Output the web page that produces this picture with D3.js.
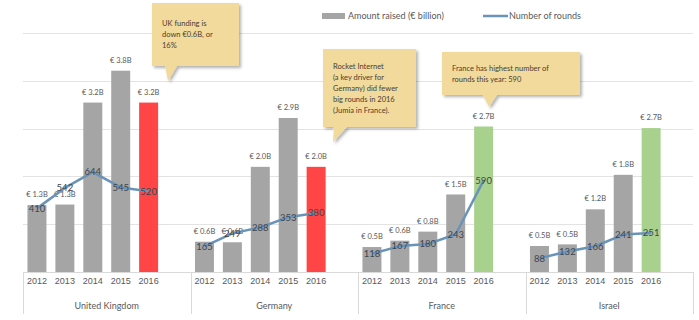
<!DOCTYPE html>
<html>
<head>
<meta charset="utf-8">
<script src="https://cdn.jsdelivr.net/npm/d3@7"></script>
<style>
  body { margin: 0; background: #fff; }
  svg { font-family: Lato, "Open Sans", sans-serif; }
</style>
</head>
<body>
<div id="chart"></div>
<script>
// data
const countries = ["United Kingdom", "Germany", "France", "Israel"];
const years = ["2012", "2013", "2014", "2015", "2016"];
const amountUK = [1.26, 1.27, 3.19, 3.79, 3.19];
const amountDE = [0.57, 0.56, 1.98, 2.90, 1.98];
const amountFR = [0.47, 0.59, 0.76, 1.46, 2.74];
const amountIL = [0.49, 0.52, 1.18, 1.83, 2.71];
const roundsUK = [410, 542, 644, 545, 520];
const roundsDE = [165, 249, 288, 353, 380];
const roundsFR = [118, 167, 180, 243, 590];
const roundsIL = [88, 132, 166, 241, 251];
const legendLabels = ["Amount raised (€ billion)", "Number of rounds"];
const notes = [
    ["UK funding is", "down €0.6B, or", "16%"],
    ["Rocket Internet", "(a key driver for", "Germany) did fewer", "big rounds in 2016", "(Jumia in France)."],
    ["France has highest number of", "rounds this year: 590"]
];

// styles
const barGrey = "#a5a5a5",
      lastBarColors = ["#ff4545", "#ff4545", "#a9d18e", "#a9d18e"],
      lineColor = "#6a93b8",
      textGrey = "#595959",
      noteFill = "#f1da9c";

const width = 699, height = 320;
const amounts = [amountUK, amountDE, amountFR, amountIL];
const rounds = [roundsUK, roundsDE, roundsFR, roundsIL];

const rows = [];
countries.forEach((c, i) => {
    years.forEach((yr, j) => {
        rows.push({country: c, year: yr, amount: amounts[i][j], rounds: rounds[i][j],
                   color: j === years.length - 1 ? lastBarColors[i] : barGrey});
    });
});

const svg = d3.select("#chart").append("svg")
    .attr("width", width)
    .attr("height", height);

const defs = svg.append("defs");
defs.append("filter").attr("id", "shadow")
    .attr("x", "-10%").attr("y", "-10%").attr("width", "130%").attr("height", "130%")
    .append("feDropShadow")
    .attr("dx", 2).attr("dy", 2).attr("stdDeviation", 1.5)
    .attr("flood-color", "#000").attr("flood-opacity", 0.3);

//Set up scales
const outer = d3.scaleBand().domain(countries).range([23, 693]);
const inner = d3.scaleBand().domain([...years, "gap"])
    .range([0, outer.bandwidth()])
    .paddingInner(0.32).paddingOuter(0.16);
const y = d3.scaleLinear().domain([0, 4.5]).range([272, 33]);
const y2 = d3.scaleLinear().domain([0, 1540]).range([272, 33]);
const xc = d => outer(d.country) + inner(d.year) + inner.bandwidth() / 2;

//gridlines
svg.append("g").selectAll("line")
    .data(d3.range(1, 6).map(i => i * 0.9))
    .enter().append("line")
    .attr("x1", 23).attr("x2", 693)
    .attr("y1", d => Math.round(y(d)) + 0.5)
    .attr("y2", d => Math.round(y(d)) + 0.5)
    .attr("stroke", "#e3e3e3");

//bars
svg.append("g").selectAll("rect")
    .data(rows)
    .enter().append("rect")
    .attr("x", d => outer(d.country) + inner(d.year))
    .attr("y", d => y(d.amount))
    .attr("width", inner.bandwidth())
    .attr("height", d => y(0) - y(d.amount))
    .attr("fill", d => d.color);

//category axis
const axis = svg.append("g");
axis.append("line")
    .attr("x1", 23).attr("x2", 693).attr("y1", 272.5).attr("y2", 272.5)
    .attr("stroke", "#d9d9d9");
axis.selectAll("line.div")
    .data([...countries.map(c => outer(c)), 693])
    .enter().append("line")
    .attr("class", "div")
    .attr("x1", d => Math.round(d) + 0.5).attr("x2", d => Math.round(d) + 0.5)
    .attr("y1", 272).attr("y2", 314)
    .attr("stroke", "#d9d9d9");

countries.forEach(c => {
    const g = axis.append("g")
        .attr("transform", "translate(" + outer(c) + ",276)")
        .call(d3.axisBottom(inner).tickSize(0).tickPadding(0).tickValues(years));
    g.select(".domain").remove();
    g.selectAll("text")
        .attr("dy", "0.9em")
        .attr("font-size", 9)
        .attr("font-family", null)
        .attr("fill", textGrey);
});
axis.selectAll("text.country")
    .data(countries)
    .enter().append("text")
    .attr("class", "country")
    .attr("x", d => outer(d) + outer.bandwidth() / 2)
    .attr("y", 306)
    .attr("dy", "0.35em")
    .attr("text-anchor", "middle")
    .attr("font-size", 9)
    .attr("fill", textGrey)
    .text(d => d);

//bar value labels
svg.append("g").selectAll("text")
    .data(rows)
    .enter().append("text")
    .attr("x", xc)
    .attr("y", d => y(d.amount) - 10.5)
    .attr("dy", "0.35em")
    .attr("text-anchor", "middle")
    .attr("font-size", 7.5)
    .attr("fill", textGrey)
    .text(d => "€ " + d3.format(".1f")(d.amount) + "B");

//rounds lines
const line = d3.line().x(xc).y(d => y2(d.rounds));
svg.append("g").selectAll("path")
    .data(d3.groups(rows, d => d.country))
    .enter().append("path")
    .attr("d", d => line(d[1]))
    .attr("fill", "none")
    .attr("stroke", lineColor)
    .attr("stroke-width", 2.5)
    .attr("stroke-linejoin", "round");

svg.append("g").selectAll("text")
    .data(rows)
    .enter().append("text")
    .attr("x", xc)
    .attr("y", d => y2(d.rounds))
    .attr("dy", "0.35em")
    .attr("text-anchor", "middle")
    .attr("font-size", 9.5)
    .attr("fill", "#3c4650")
    .text(d => d.rounds);

//legend
const legend = svg.append("g").attr("font-size", 9).attr("fill", textGrey);
legend.append("rect")
    .attr("x", 322).attr("y", 13).attr("width", 23).attr("height", 6)
    .attr("fill", barGrey);
legend.append("text").attr("x", 348).attr("y", 16).attr("dy", "0.35em").text(legendLabels[0]);
legend.append("line")
    .attr("x1", 483).attr("x2", 508).attr("y1", 16).attr("y2", 16)
    .attr("stroke", lineColor).attr("stroke-width", 2.5);
legend.append("text").attr("x", 509).attr("y", 16).attr("dy", "0.35em").text(legendLabels[1]);

//callouts
const callouts = [
    {x0: 152, x1: 239, y0: 3, y1: 66, t0: 165, t1: 177, tip: [168, 81], lines: notes[0]},
    {x0: 323, x1: 416, y0: 49, y1: 127, t0: 334, t1: 347, tip: [333, 142], lines: notes[1]},
    {x0: 442, x1: 580, y0: 52, y1: 95, t0: 483, t1: 497, tip: [489, 107], lines: notes[2]}
];
const note = svg.append("g").selectAll("g")
    .data(callouts)
    .enter().append("g");
note.append("path")
    .attr("d", d => "M" + d.x0 + "," + d.y0 + "H" + d.x1 + "V" + d.y1 +
        "H" + d.t1 + "L" + d.tip[0] + "," + d.tip[1] + "L" + d.t0 + "," + d.y1 +
        "H" + d.x0 + "Z")
    .attr("fill", noteFill)
    .attr("filter", "url(#shadow)");
note.each(function(d) {
    const lineH = d.lines.length > 3 ? 11 : 11;
    const top = d.lines.length === 5 ? 66 : (d.lines.length === 3 ? 23 : 68);
    d3.select(this).selectAll("text")
        .data(d.lines)
        .enter().append("text")
        .attr("x", d.x0 + 10)
        .attr("y", (t, i) => top + i * lineH)
        .attr("dy", "0.35em")
        .attr("font-size", 7.5)
        .attr("fill", "#4a4030")
        .text(t => t);
});
</script>
</body>
</html>
